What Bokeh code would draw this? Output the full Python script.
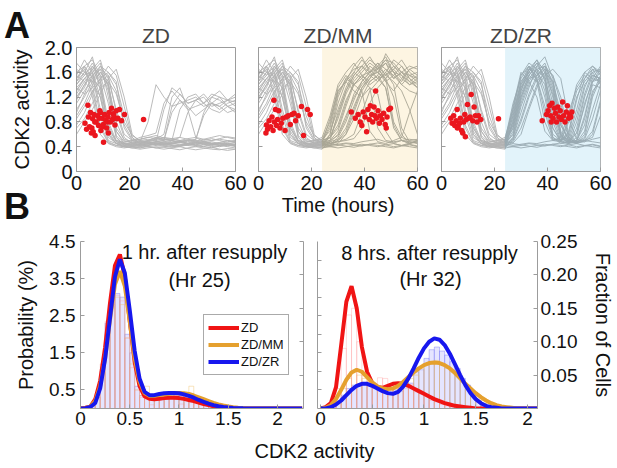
from bokeh.plotting import figure
from bokeh.layouts import column, row
from bokeh.models import (Range1d, LinearAxis, FixedTicker, Label, BoxAnnotation,
                          Legend, LegendItem, CustomJSTickFormatter)
from bokeh.embed import file_html
from bokeh.resources import INLINE

FONT = "Liberation Sans"
AXC = "#9c9c9c"

# ---------------- Panel A data ----------------
hours = [0, 3, 6, 9, 12, 15, 18, 21, 24, 27, 30, 33, 36, 39, 42, 45, 48, 51, 54, 57, 60]
resupply_hr = 24

zd_traces = [
    [1.45,1.60,1.55,0.90,0.50,0.45,0.42,0.44,0.45,0.48,0.46,0.44,0.47,0.50,0.45,0.43,0.46,0.48,0.45,0.44,0.47],
    [1.30,1.50,1.65,1.40,0.70,0.48,0.45,0.47,0.50,0.52,0.49,0.46,0.44,0.48,0.51,0.49,0.46,0.43,0.45,0.48,0.50],
    [1.20,1.35,1.70,1.55,1.10,0.55,0.42,0.40,0.38,0.42,0.45,0.43,0.40,0.42,0.45,0.47,0.44,0.42,0.40,0.43,0.42],
    [0.90,1.10,1.40,1.60,1.45,0.65,0.48,0.50,0.52,0.55,0.58,0.54,0.52,0.50,0.53,0.55,0.52,0.50,0.53,0.56,0.54],
    [1.60,1.70,1.20,0.60,0.45,0.40,0.38,0.40,0.42,0.45,0.48,0.50,1.05,1.25,1.10,1.15,1.20,1.05,1.10,1.15,1.12],
    [1.40,1.55,1.75,1.50,0.80,0.50,0.47,0.50,0.55,0.58,0.62,1.10,1.30,1.15,1.00,1.05,1.10,1.20,1.15,1.05,1.10],
    [1.10,1.30,1.50,1.65,1.30,0.70,0.52,0.48,0.46,0.50,0.55,0.52,0.50,1.00,1.20,1.25,1.10,1.00,0.95,1.05,1.00],
    [0.75,0.95,1.25,1.50,1.60,1.40,0.90,0.55,0.45,0.42,0.44,0.46,0.45,0.48,0.50,0.52,0.90,1.10,1.05,0.95,1.00],
    [1.50,1.65,1.40,0.75,0.48,0.42,0.40,0.38,0.36,0.38,0.40,0.39,0.37,0.35,0.38,0.40,0.38,0.36,0.35,0.37,0.36],
    [1.25,1.45,1.60,1.75,1.20,0.58,0.45,0.42,0.44,0.47,0.45,0.43,0.46,0.48,0.50,0.47,0.45,0.44,0.46,0.45,0.43],
    [0.85,1.05,1.30,1.45,1.55,1.30,0.75,0.52,0.48,0.46,0.48,0.50,0.53,0.55,0.52,0.50,0.48,0.50,0.52,0.50,0.48],
    [1.55,1.80,1.60,1.00,0.55,0.46,0.44,0.46,0.48,0.80,1.40,1.20,1.05,1.10,1.15,1.20,1.10,1.25,1.20,1.15,1.25],
    [1.35,1.50,1.45,1.60,1.40,0.65,0.45,0.40,0.38,0.40,0.42,0.45,0.43,0.41,0.44,0.46,0.43,0.40,0.42,0.44,0.41],
    [1.00,1.20,1.45,1.70,1.50,1.00,0.60,0.50,0.52,0.55,0.53,0.50,0.95,1.15,1.05,0.90,1.00,1.10,1.20,1.05,0.95],
    [1.40,1.60,1.85,1.30,0.60,0.45,0.40,0.38,0.40,0.43,0.45,0.48,0.46,0.44,0.42,0.45,0.48,0.46,0.44,0.42,0.45],
    [0.70,0.85,1.10,1.35,1.45,1.25,0.80,0.58,0.50,0.48,0.50,0.52,0.50,0.48,0.46,0.49,0.52,0.55,0.58,0.55,0.52],
    [1.65,1.55,1.70,1.45,0.70,0.50,0.46,0.44,0.42,0.45,0.48,1.00,1.35,1.25,1.10,1.15,1.05,1.10,1.00,1.10,1.15],
    [1.20,1.40,1.55,1.65,1.55,0.95,0.55,0.45,0.42,0.40,0.38,0.40,0.42,0.44,0.42,0.40,0.43,0.45,0.42,0.40,0.38],
    [1.30,1.50,1.60,1.20,0.60,0.45,0.42,0.45,0.48,0.50,0.52,0.60,1.20,1.35,1.00,0.55,0.48,0.45,0.47,0.50,0.48],
    [1.75,1.60,1.45,1.20,0.65,0.45,0.40,0.42,0.44,0.46,0.44,0.42,0.45,0.47,0.44,0.42,0.40,0.43,0.46,0.44,0.42],
    [1.50,1.70,1.80,1.55,1.40,0.80,0.50,0.46,0.44,0.42,0.45,0.48,0.50,0.47,0.45,0.48,0.50,0.53,0.50,0.47,0.50],
    [0.60,0.80,1.00,1.25,1.50,1.65,1.20,0.60,0.48,0.45,0.43,0.46,0.49,0.47,0.45,0.43,0.46,0.44,0.42,0.45,0.47],
    [1.35,1.25,1.55,1.70,1.60,1.45,0.70,0.50,0.46,0.50,0.55,0.52,0.50,0.55,0.95,1.15,1.25,1.10,1.05,1.15,1.20],
    [1.55,1.45,1.30,0.70,0.46,0.42,0.40,0.41,0.43,0.45,0.43,0.41,0.39,0.42,0.44,0.42,0.40,0.38,0.41,0.43,0.40],
    [1.15,1.40,1.65,1.80,1.35,0.55,0.42,0.44,0.47,0.49,0.52,0.55,0.53,0.50,0.48,0.51,0.95,1.20,1.30,1.15,1.05],
    [0.95,1.25,1.35,1.50,1.70,1.55,1.05,0.55,0.44,0.40,0.38,0.36,0.38,0.40,0.37,0.35,0.37,0.39,0.36,0.34,0.36],
    [1.45,1.70,1.50,1.35,0.75,0.48,0.44,0.42,0.40,0.44,0.47,0.45,0.42,0.40,0.43,0.46,0.48,0.45,0.43,0.41,0.44],
]

mm_traces = [
    [1.45,1.60,1.55,0.90,0.50,0.45,0.42,0.44,0.45,0.60,1.20,1.50,1.65,1.70,1.55,1.60,1.75,1.50,1.60,1.55,1.50],
    [1.30,1.50,1.65,1.40,0.70,0.48,0.45,0.47,0.50,0.55,0.70,1.10,1.45,1.60,1.75,1.65,1.50,0.80,0.55,0.50,0.52],
    [1.20,1.35,1.70,1.55,1.10,0.55,0.42,0.40,0.38,0.42,0.50,0.65,1.00,1.35,1.50,1.70,1.85,1.60,1.40,1.55,1.45],
    [0.90,1.10,1.40,1.60,1.45,0.65,0.48,0.50,0.52,0.80,1.35,1.55,1.40,1.50,1.35,0.70,0.50,0.48,0.50,0.52,0.50],
    [1.60,1.70,1.20,0.60,0.45,0.40,0.38,0.40,0.42,0.45,0.48,0.52,0.60,0.95,1.30,1.45,1.60,1.80,1.70,1.55,1.60],
    [1.40,1.55,1.75,1.50,0.80,0.50,0.47,0.50,0.55,0.90,1.40,1.60,1.75,1.55,1.60,1.70,1.45,1.30,1.50,1.65,1.55],
    [1.10,1.30,1.50,1.65,1.30,0.70,0.52,0.48,0.46,0.50,0.58,0.85,1.25,1.45,1.60,1.50,1.35,0.75,0.50,0.45,0.48],
    [0.75,0.95,1.25,1.50,1.60,1.40,0.90,0.55,0.45,0.42,0.44,0.46,0.45,0.48,0.50,0.52,0.48,0.46,0.50,0.48,0.46],
    [1.50,1.65,1.40,0.75,0.48,0.42,0.40,0.38,0.36,0.50,0.95,1.30,1.55,1.70,1.85,1.65,1.75,1.60,1.45,1.65,1.70],
    [1.25,1.45,1.60,1.75,1.20,0.58,0.45,0.42,0.44,0.47,0.60,0.90,1.20,1.40,1.55,1.45,1.60,1.40,0.70,0.48,0.45],
    [0.85,1.05,1.30,1.45,1.55,1.30,0.75,0.52,0.48,0.46,0.48,0.50,0.53,0.70,1.10,1.35,1.50,1.65,1.80,1.60,1.50],
    [1.55,1.80,1.60,1.00,0.55,0.46,0.44,0.46,0.48,0.70,1.25,1.50,1.40,1.30,0.65,0.48,0.45,0.50,0.55,0.95,1.30],
    [1.35,1.50,1.45,1.60,1.40,0.65,0.45,0.40,0.38,0.40,0.42,0.45,0.43,0.41,0.44,0.46,0.43,0.40,0.42,0.44,0.41],
    [1.00,1.20,1.45,1.70,1.50,1.00,0.60,0.50,0.52,0.65,1.00,1.35,1.60,1.80,1.65,1.50,1.55,1.70,1.60,1.45,1.55],
    [1.40,1.60,1.85,1.30,0.60,0.45,0.40,0.38,0.40,0.43,0.55,0.80,1.15,1.45,1.60,1.75,1.55,1.45,1.30,1.00,0.60],
    [0.70,0.85,1.10,1.35,1.45,1.25,0.80,0.58,0.50,0.55,0.75,1.15,1.40,1.55,1.40,1.50,1.65,1.55,1.70,1.50,1.40],
    [1.65,1.55,1.70,1.45,0.70,0.50,0.46,0.44,0.42,0.45,0.50,0.60,0.85,1.20,1.45,1.55,1.90,1.70,1.55,1.40,1.50],
    [1.20,1.40,1.55,1.65,1.55,0.95,0.55,0.45,0.42,0.40,0.38,0.40,0.42,0.44,0.42,0.40,0.43,0.45,0.42,0.40,0.38],
    [1.30,1.50,1.60,1.20,0.60,0.45,0.42,0.45,0.48,0.75,1.30,1.45,1.30,1.20,1.35,1.25,0.65,0.45,0.42,0.46,0.50],
    [1.75,1.60,1.45,1.20,0.65,0.45,0.40,0.42,0.44,0.55,0.85,1.25,1.50,1.65,1.80,1.70,1.55,1.65,1.50,1.40,1.45],
    [1.50,1.70,1.80,1.55,1.40,0.80,0.50,0.46,0.44,0.42,0.45,0.60,0.95,1.30,1.50,1.65,1.80,1.75,1.60,1.50,1.35],
    [0.60,0.80,1.00,1.25,1.50,1.65,1.20,0.60,0.48,0.50,0.65,1.05,1.40,1.55,1.45,1.55,1.35,0.70,0.50,0.46,0.48],
    [1.35,1.25,1.55,1.70,1.60,1.45,0.70,0.50,0.46,0.55,0.90,1.30,1.55,1.70,1.60,1.75,1.65,1.50,1.60,1.70,1.65],
    [1.55,1.45,1.30,0.70,0.46,0.42,0.40,0.41,0.43,0.45,0.43,0.41,0.39,0.42,0.44,0.42,0.40,0.38,0.41,0.43,0.40],
    [1.15,1.40,1.65,1.80,1.35,0.55,0.42,0.44,0.47,0.85,1.30,1.45,1.60,1.50,1.70,1.60,1.45,1.55,1.40,1.30,1.25],
    [0.95,1.25,1.35,1.50,1.70,1.55,1.05,0.55,0.44,0.48,0.52,0.70,1.05,1.35,1.55,1.60,1.50,1.20,0.60,0.45,0.50],
    [1.45,1.70,1.50,1.35,0.75,0.48,0.44,0.42,0.40,0.60,1.10,1.45,1.70,1.85,1.60,1.65,1.80,1.60,1.55,1.45,1.35],
]

zr_traces = [
    [1.45,1.60,1.55,0.90,0.50,0.45,0.42,0.44,0.45,0.90,1.45,1.65,1.60,1.20,0.55,0.45,0.50,0.90,1.40,1.55,1.50],
    [1.30,1.50,1.65,1.40,0.70,0.48,0.45,0.47,0.50,0.70,1.25,1.55,1.70,1.55,0.90,0.50,0.45,0.55,1.10,1.45,1.60],
    [1.20,1.35,1.70,1.55,1.10,0.55,0.42,0.40,0.38,0.55,1.05,1.40,1.60,1.75,1.40,0.65,0.48,0.45,0.60,1.20,1.50],
    [0.90,1.10,1.40,1.60,1.45,0.65,0.48,0.50,0.52,1.10,1.50,1.70,1.45,0.80,0.50,0.55,0.95,1.35,1.55,1.45,1.50],
    [1.60,1.70,1.20,0.60,0.45,0.40,0.38,0.40,0.42,0.50,0.80,1.20,1.50,1.65,1.55,1.20,0.60,0.48,0.52,0.85,1.30],
    [1.40,1.55,1.75,1.50,0.80,0.50,0.47,0.50,0.55,1.00,1.55,1.75,1.65,1.30,0.60,0.50,0.60,1.15,1.60,1.70,1.55],
    [1.10,1.30,1.50,1.65,1.30,0.70,0.52,0.48,0.46,0.60,1.10,1.45,1.65,1.50,1.00,0.55,0.47,0.50,0.75,1.30,1.45],
    [0.75,0.95,1.25,1.50,1.60,1.40,0.90,0.55,0.45,0.42,0.44,0.46,0.45,0.48,0.50,0.52,0.48,0.46,0.50,0.48,0.46],
    [1.50,1.65,1.40,0.75,0.48,0.42,0.40,0.38,0.36,0.85,1.40,1.60,1.80,1.45,0.70,0.48,0.45,0.70,1.25,1.60,1.65],
    [1.25,1.45,1.60,1.75,1.20,0.58,0.45,0.42,0.44,0.65,1.20,1.50,1.55,1.70,1.35,0.75,0.52,0.48,0.50,0.55,0.90],
    [0.85,1.05,1.30,1.45,1.55,1.30,0.75,0.52,0.48,0.46,0.60,1.00,1.35,1.55,1.65,1.50,0.85,0.52,0.48,0.60,1.10],
    [1.55,1.80,1.60,1.00,0.55,0.46,0.44,0.46,0.48,1.05,1.60,1.45,1.20,0.65,0.50,0.48,0.80,1.30,1.50,1.65,1.45],
    [1.35,1.50,1.45,1.60,1.40,0.65,0.45,0.40,0.38,0.40,0.42,0.45,0.43,0.41,0.44,0.46,0.43,0.40,0.42,0.44,0.41],
    [1.00,1.20,1.45,1.70,1.50,1.00,0.60,0.50,0.52,0.75,1.30,1.65,1.80,1.60,1.10,0.58,0.50,0.62,1.05,1.50,1.70],
    [1.40,1.60,1.85,1.30,0.60,0.45,0.40,0.38,0.40,0.48,0.70,1.05,1.40,1.60,1.45,0.95,0.55,0.45,0.50,0.65,1.15],
    [0.70,0.85,1.10,1.35,1.45,1.25,0.80,0.58,0.50,0.95,1.45,1.60,1.50,1.05,0.55,0.48,0.65,1.20,1.45,1.60,1.40],
    [1.65,1.55,1.70,1.45,0.70,0.50,0.46,0.44,0.42,0.55,0.95,1.35,1.70,1.85,1.50,0.80,0.50,0.46,0.48,0.52,0.55],
    [1.20,1.40,1.55,1.65,1.55,0.95,0.55,0.45,0.42,0.40,0.38,0.40,0.42,0.44,0.42,0.40,0.43,0.45,0.42,0.40,0.38],
    [1.30,1.50,1.60,1.20,0.60,0.45,0.42,0.45,0.48,0.80,1.35,1.55,1.45,1.60,1.25,0.60,0.45,0.48,0.85,1.40,1.35],
    [1.75,1.60,1.45,1.20,0.65,0.45,0.40,0.42,0.44,0.75,1.30,1.60,1.75,1.50,0.80,0.48,0.46,0.80,1.35,1.65,1.60],
    [1.50,1.70,1.80,1.55,1.40,0.80,0.50,0.46,0.44,0.60,1.15,1.50,1.65,1.70,1.45,0.75,0.50,0.47,0.65,1.25,1.55],
    [0.60,0.80,1.00,1.25,1.50,1.65,1.20,0.60,0.48,1.00,1.55,1.70,1.50,0.95,0.52,0.50,0.85,1.40,1.60,1.50,1.45],
    [1.35,1.25,1.55,1.70,1.60,1.45,0.70,0.50,0.46,0.70,1.20,1.55,1.75,1.65,1.30,0.62,0.48,0.50,0.90,1.45,1.65],
    [1.55,1.45,1.30,0.70,0.46,0.42,0.40,0.41,0.43,0.45,0.43,0.41,0.39,0.42,0.44,0.42,0.40,0.38,0.41,0.43,0.40],
    [1.15,1.40,1.65,1.80,1.35,0.55,0.42,0.44,0.47,0.90,1.40,1.70,1.60,1.40,0.70,0.50,0.55,1.00,1.50,1.70,1.60],
    [0.95,1.25,1.35,1.50,1.70,1.55,1.05,0.55,0.44,0.52,0.85,1.25,1.55,1.70,1.55,1.10,0.55,0.47,0.55,1.00,1.40],
    [1.45,1.70,1.50,1.35,0.75,0.48,0.44,0.42,0.40,0.80,1.35,1.65,1.55,1.65,1.20,0.58,0.46,0.62,1.20,1.55,1.50],
]

zd_dots = [(3.2,0.78),(3.8,0.68),(4.3,1.07),(4.5,0.88),(4.9,0.72),(5.3,0.95),(5.6,0.62),(5.8,0.70),
           (6.1,0.85),(6.6,0.92),(6.9,0.80),(7.0,0.58),(7.4,0.80),(7.9,0.90),(8.3,0.74),(8.6,0.86),
           (8.8,0.98),(9.2,0.66),(9.7,0.86),(9.9,0.72),(10.1,0.76),(10.2,0.47),(10.6,0.92),(11.0,0.83),
           (11.4,0.70),(11.7,0.80),(11.9,0.88),(12.3,0.95),(12.8,0.80),(13.2,1.02),(13.6,0.84),(13.9,0.93),
           (14.1,0.90),(14.5,0.75),(15.0,0.98),(15.3,0.85),(15.6,0.86),(16.2,1.00),(17.0,0.82),(18.1,0.92),
           (25.3,0.84),(6.3,0.64),(12.0,0.62),(9.0,0.95)]
mm_dots = [(2.8,0.62),(3.0,0.75),(3.4,0.68),(4.0,0.82),(4.6,0.72),(5.1,0.88),(5.5,0.66),(6.0,0.80),
           (6.4,1.00),(6.8,0.74),(7.2,0.84),(7.6,0.98),(8.1,0.70),(8.6,0.78),(9.2,0.86),(10.0,0.66),
           (10.5,0.88),(11.2,0.90),(12.0,0.76),(12.6,0.92),(13.4,0.94),(14.0,0.82),(15.0,0.90),(16.2,1.05),
           (17.0,0.58),(18.5,1.00),(19.5,0.92),(5.8,1.15),
           (35.0,0.96),(36.5,0.86),(37.6,0.92),(38.4,0.80),(39.0,0.74),(39.5,0.96),(40.2,0.88),(40.8,0.64),
           (41.3,1.00),(41.8,0.84),(42.2,1.06),(42.7,0.92),(43.1,0.80),(43.6,1.04),(44.0,0.90),(44.5,0.86),
           (45.1,0.98),(45.6,0.78),(46.0,0.90),(46.6,0.84),(47.2,0.94),(47.8,0.76),(48.5,0.88),(49.2,1.00),
           (49.8,1.02),(44.2,1.30),(48.2,0.70)]
zr_dots = [(3.5,0.86),(4.0,0.78),(4.6,0.90),(5.0,0.74),(5.5,0.82),(5.9,1.00),(6.3,0.72),(6.8,0.78),
           (7.1,0.86),(7.6,0.66),(8.0,0.62),(8.4,0.80),(8.8,0.92),(9.3,0.84),(9.8,1.08),(10.3,0.86),
           (10.8,0.88),(11.2,1.24),(11.8,0.82),(12.3,1.04),(12.8,0.90),(13.4,0.80),(14.0,0.90),(14.8,0.84),
           (21.5,0.85),(6.0,0.70),(9.0,0.56),
           (38.0,0.82),(39.6,0.92),(40.2,0.98),(40.8,1.06),(41.2,0.90),(41.7,1.10),(42.1,0.86),(42.6,1.02),
           (43.0,0.94),(43.4,0.80),(43.9,1.04),(44.3,0.88),(44.8,0.98),(45.2,0.84),(45.7,1.12),(46.1,0.90),
           (46.6,0.80),(47.1,0.96),(47.5,1.06),(48.0,0.86),(48.4,0.92),(48.8,0.88),(49.2,0.96),(41.4,0.80)]

a_titles = ["ZD", "ZD/MM", "ZD/ZR"]
a_xticks = [0, 20, 40, 60]
a_yticks = [0, 0.4, 0.8, 1.2, 1.6, 2.0]

# ---------------- Panel B data ----------------
b_xticks = [0, 0.5, 1, 1.5, 2]
b1_yticks = [0.5, 1.5, 2.5, 3.5, 4.5]
b2_frac_ticks = [0.05, 0.10, 0.15, 0.20, 0.25]
b2_prob_ticks = [0.5, 1.0, 1.5, 2.0, 2.5, 3.0, 3.5, 4.0]
bin_w = 0.05

b1_x = [0.00,0.05,0.10,0.15,0.20,0.25,0.30,0.35,0.40,0.45,0.50,0.55,0.60,0.65,0.70,0.75,
        0.80,0.85,0.90,0.95,1.00,1.05,1.10,1.15,1.20,1.25,1.30,1.35,1.40,1.45,1.50,1.55,
        1.60,1.65,1.70,1.75,1.80,1.85,1.90,1.95,2.00,2.05,2.10,2.15,2.20,2.25]
b1_zd = [0.0,0.02,0.05,0.25,0.75,1.65,2.85,3.85,4.15,3.55,2.35,1.25,0.60,0.33,0.26,0.25,
         0.26,0.28,0.29,0.29,0.28,0.26,0.23,0.20,0.16,0.12,0.09,0.06,0.04,0.025,0.015,0.008,
         0.004,0,0,0,0,0,0,0,0,0,0,0,0,0]
b1_mm = [0.0,0.01,0.05,0.20,0.60,1.35,2.40,3.35,3.70,3.30,2.35,1.35,0.72,0.42,0.34,0.34,
         0.36,0.38,0.40,0.42,0.42,0.41,0.39,0.35,0.30,0.25,0.20,0.15,0.11,0.08,0.055,0.035,
         0.02,0.012,0.006,0.003,0,0,0,0,0,0,0,0,0,0]
b1_zr = [0.0,0.01,0.04,0.15,0.55,1.35,2.45,3.55,4.02,3.65,2.65,1.55,0.80,0.45,0.36,0.36,
         0.39,0.41,0.42,0.42,0.41,0.38,0.34,0.29,0.23,0.18,0.13,0.09,0.06,0.04,0.025,0.015,
         0.008,0.004,0.002,0,0,0,0,0,0,0,0,0,0,0]

b1_bins = [0.10,0.15,0.20,0.25,0.30,0.35,0.40,0.45,0.50,0.55,0.60,0.65,0.70,0.75,0.80,
           0.85,0.90,0.95,1.00,1.05,1.10,1.15,1.20,1.25,1.30,1.35,1.40,1.45,1.50,1.55]
b1_zr_hist = [0.05,0.30,1.00,2.30,3.00,3.10,3.00,2.00,1.50,0.60,0.35,0.30,0.30,0.30,0.35,
              0.35,0.35,0.40,0.35,0.40,0.35,0.30,0.25,0.20,0.15,0.10,0.08,0.05,0.03,0.02]
b1_zd_hist = [0.10,0.40,1.20,2.35,3.10,3.05,2.90,1.90,1.10,0.50,0.30,0.25,0.10,0.25,0.30,
              0.25,0.30,0.35,0.12,0.30,0.20,0.15,0.15,0.10,0.05,0.05,0.02,0.0,0.0,0.0]
b1_mm_hist = [0.08,0.30,1.00,2.00,2.80,3.00,2.80,1.90,1.20,0.50,0.35,0.60,0.30,0.30,0.35,
              0.30,0.40,0.35,0.40,0.35,0.60,0.30,0.25,0.20,0.15,0.10,0.08,0.05,0.04,0.02]

b2_x = [0.00,0.05,0.10,0.15,0.20,0.25,0.30,0.35,0.40,0.45,0.50,0.55,0.60,0.65,0.70,0.75,
        0.80,0.85,0.90,0.95,1.00,1.05,1.10,1.15,1.20,1.25,1.30,1.35,1.40,1.45,1.50,1.55,
        1.60,1.65,1.70,1.75,1.80,1.85,1.90,1.95,2.00,2.05,2.10]
b2_zd = [0.0,0.002,0.008,0.032,0.095,0.160,0.183,0.150,0.092,0.055,0.038,0.032,0.031,0.034,0.037,0.038,
         0.037,0.034,0.030,0.026,0.022,0.018,0.014,0.011,0.008,0.006,0.004,0.003,0.002,0.001,0,0,
         0,0,0,0,0,0,0,0,0,0,0]
b2_mm = [0.0,0.001,0.005,0.014,0.028,0.043,0.054,0.058,0.055,0.047,0.039,0.033,0.030,0.029,0.030,0.034,
         0.040,0.047,0.054,0.060,0.065,0.068,0.069,0.068,0.065,0.060,0.053,0.045,0.037,0.030,0.023,0.017,
         0.012,0.008,0.005,0.003,0.002,0.001,0,0,0,0,0]
b2_zr = [0.0,0.0,0.002,0.006,0.012,0.020,0.028,0.034,0.037,0.037,0.034,0.030,0.026,0.023,0.022,0.025,
         0.033,0.045,0.060,0.076,0.090,0.100,0.105,0.103,0.095,0.082,0.066,0.050,0.035,0.023,0.014,0.008,
         0.004,0.002,0.001,0,0,0,0,0,0,0,0]

b2_bins = [0.10,0.15,0.20,0.25,0.30,0.35,0.40,0.45,0.50,0.55,0.60,0.65,0.70,0.75,0.80,0.85,
           0.90,0.95,1.00,1.05,1.10,1.15,1.20,1.25,1.30,1.35,1.40,1.45,1.50,1.55,1.60,1.65]
b2_zr_hist = [0.005,0.010,0.020,0.030,0.035,0.034,0.036,0.035,0.030,0.033,0.026,0.024,0.028,0.026,0.040,0.038,
              0.055,0.058,0.075,0.088,0.092,0.086,0.080,0.070,0.060,0.045,0.035,0.018,0.010,0.004,0.002,0.0]
b2_zd_hist = [0.005,0.030,0.090,0.140,0.150,0.100,0.050,0.040,0.036,0.046,0.045,0.030,0.032,0.035,0.030,0.036,
              0.025,0.022,0.018,0.012,0.010,0.006,0.004,0.002,0.0,0.0,0.0,0.0,0.0,0.0,0.0,0.0]
b2_mm_hist = [0.004,0.010,0.030,0.045,0.055,0.050,0.045,0.040,0.035,0.030,0.028,0.030,0.030,0.035,0.040,0.045,
              0.050,0.060,0.065,0.070,0.072,0.066,0.060,0.055,0.050,0.040,0.032,0.025,0.020,0.012,0.008,0.005]

series_names = ["ZD", "ZD/MM", "ZD/ZR"]
series_colors = ["#f01414", "#e5a02e", "#1717ee"]


# ---------------- helpers ----------------
def make_fig(width, height, lb, rb, tb, bb, xr, yr, y_loc="left"):
    p = figure(width=width, height=height, x_range=xr, y_range=yr, toolbar_location=None,
               output_backend="svg", y_axis_location=y_loc,
               min_border_left=lb, min_border_right=rb, min_border_top=tb, min_border_bottom=bb)
    p.xgrid.visible = False
    p.ygrid.visible = False
    p.outline_line_color = None
    p.background_fill_color = "white"
    p.border_fill_color = "white"
    return p


def style_axis(ax, ticks, code, size, standoff=4):
    ax.ticker = FixedTicker(ticks=ticks)
    if code is not None:
        ax.formatter = CustomJSTickFormatter(code=code)
    ax.axis_line_color = AXC
    ax.major_tick_line_color = AXC
    ax.major_tick_in = 4
    ax.major_tick_out = 0
    ax.minor_tick_line_color = None
    ax.major_label_text_font = FONT
    ax.major_label_text_font_size = size
    ax.major_label_text_color = "#111111"
    ax.major_label_standoff = standoff
    ax.axis_label_text_font = FONT
    ax.axis_label_text_font_style = "normal"
    ax.axis_label_text_color = "#111111"


def txt(text, x, y, size, align="left", baseline="alphabetic", bold=False, angle=0.0):
    return Label(x=x, y=y, x_units="screen", y_units="screen", text=text, angle=angle,
                 text_font=FONT, text_font_size=size, text_color="#111111",
                 text_font_style="bold" if bold else "normal",
                 text_align=align, text_baseline=baseline, level="overlay")


def add_hists(p, bins, zr_h, mm_h, zd_h):
    rights = [b + bin_w for b in bins]
    p.quad(left=bins, right=rights, bottom=0, top=zr_h,
           fill_color="#cfd0ff", fill_alpha=0.55, line_color="#6f6ff5", line_alpha=0.5, line_width=0.8)
    p.quad(left=bins, right=rights, bottom=0, top=mm_h,
           fill_color=None, line_color="#efc26a", line_alpha=0.55, line_width=0.8)
    p.quad(left=bins, right=rights, bottom=0, top=zd_h,
           fill_color=None, line_color="#ff9090", line_alpha=0.4, line_width=0.8)


HIDE = "return '';"
A_FMT = "return tick == 0 ? '0' : tick.toFixed(1);"
B_FMT = "return (Math.round(tick * 10) / 10).toString();"

ROW_A_H = 229
A_TOP, A_BOT = 47, 57
ROW_B_H = 209
B_TOP, B_BOT = 12, 30
ROW_C_H = 30
SIDE_W = 33

# ---------------- Row A ----------------
# side strip: panel letters and shared y label (frame aligned with A panels)
side = figure(width=SIDE_W, height=ROW_A_H, x_range=Range1d(0, SIDE_W), y_range=Range1d(0, 1),
              toolbar_location=None, output_backend="svg", y_axis_type=None,
              min_border_left=0, min_border_right=0, min_border_top=A_TOP, min_border_bottom=A_BOT)
side.xgrid.visible = False
side.ygrid.visible = False
side.outline_line_color = None
side.title.text = "A"
side.title.align = "center"
side.title.text_font = FONT
side.title.text_font_size = "36px"
side.title.text_font_style = "bold"
side.title.text_color = "#111111"
side.title.standoff = 3
sx = side.xaxis[0]
sx.ticker = FixedTicker(ticks=[])
sx.axis_line_color = None
sx.major_tick_line_color = None
sx.major_tick_out = 0
sx.major_tick_in = 0
sx.major_label_standoff = 0
sx.axis_label = "B"
sx.axis_label_text_font = FONT
sx.axis_label_text_font_size = "36px"
sx.axis_label_text_font_style = "bold"
sx.axis_label_text_color = "#111111"
sx.axis_label_standoff = 14
side.add_layout(txt("CDK2 activity", 21, 62, "20px", align="center",
                    baseline="middle", angle=1.5708))

a_traces = [zd_traces, mm_traces, zr_traces]
a_dots = [zd_dots, mm_dots, zr_dots]
a_shade = [None, "#fdf5e2", "#e2f3fa"]
a_post_col = ["#b3b3b3", "#a9a695", "#9aaab2"]
a_geom = [(214, 43, 12), (182, 11, 12), (188, 12, 17)]
k = hours.index(resupply_hr)

a_figs = []
for i in range(3):
    w, lb, rb = a_geom[i]
    p = make_fig(w, ROW_A_H, lb, rb, A_TOP, A_BOT, Range1d(0, 60), Range1d(0, 2.0))
    p.outline_line_color = AXC
    p.title.text = a_titles[i]
    p.title.align = "center"
    p.title.text_font = FONT
    p.title.text_font_size = "21px"
    p.title.text_font_style = "normal"
    p.title.standoff = 1
    if a_shade[i]:
        p.add_layout(BoxAnnotation(left=resupply_hr, fill_color=a_shade[i], fill_alpha=1.0,
                                   line_color=None, level="underlay"))
    tr = a_traces[i]
    p.multi_line(xs=[hours[:k + 1] for t in tr], ys=[t[:k + 1] for t in tr],
                 line_color="#b3b3b3", line_width=0.9)
    p.multi_line(xs=[hours[k:len(t)] for t in tr], ys=[t[k:len(hours)] for t in tr],
                 line_color=a_post_col[i], line_width=0.9)
    p.scatter(x=[d[0] for d in a_dots[i]], y=[d[1] for d in a_dots[i]], size=5.5,
              fill_color="#ea161e", line_color=None)
    style_axis(p.xaxis[0], a_xticks, None, "20px", 4)
    style_axis(p.yaxis[0], a_yticks, A_FMT if i == 0 else HIDE, "20px", 4)
    if i == 1:
        p.xaxis[0].axis_label = "Time (hours)"
        p.xaxis[0].axis_label_text_font_size = "20px"
        p.xaxis[0].axis_label_standoff = 1
    a_figs.append(p)

# ---------------- Row B ----------------
# B1
b1 = make_fig(310, ROW_B_H, 80, 7, B_TOP, B_BOT, Range1d(0, 2.264), Range1d(0, 4.5))
add_hists(b1, b1_bins, b1_zr_hist, b1_mm_hist, b1_zd_hist)
r_zd = b1.line(b1_x, b1_zd, line_color=series_colors[0], line_width=4)
r_mm = b1.line(b1_x, b1_mm, line_color=series_colors[1], line_width=4)
r_zr = b1.line(b1_x, b1_zr, line_color=series_colors[2], line_width=4)
style_axis(b1.xaxis[0], b_xticks, B_FMT, "19px", 3)
style_axis(b1.yaxis[0], b1_yticks, None, "19px", 5)
b1.yaxis[0].axis_label = "Probability (%)"
b1.yaxis[0].axis_label_text_font_size = "20px"
b1.yaxis[0].axis_label_standoff = 9
b1.extra_y_ranges = {"frac": Range1d(0, 0.25)}
b1_right = LinearAxis(y_range_name="frac")
style_axis(b1_right, b2_frac_ticks, HIDE, "1px", 0)
b1.add_layout(b1_right, "right")
leg = Legend(items=[LegendItem(label=series_names[0], renderers=[r_zd]),
                    LegendItem(label=series_names[1], renderers=[r_mm]),
                    LegendItem(label=series_names[2], renderers=[r_zr])],
             location=(123, 33))
leg.label_text_font = FONT
leg.label_text_font_size = "13px"
leg.label_text_color = "#111111"
leg.glyph_width = 31
leg.glyph_height = 17
leg.label_height = 17
leg.label_standoff = 2
leg.spacing = 0
leg.padding = 4
leg.margin = 0
leg.border_line_color = "#555555"
leg.border_line_width = 1
leg.background_fill_alpha = 1.0
b1.add_layout(leg)
b1.add_layout(txt("1 hr. after resupply", 124, 157, "20px", align="center"))
b1.add_layout(txt("(Hr 25)", 119, 129, "20px", align="center"))

# B2
b2 = make_fig(307, ROW_B_H, 7, 80, B_TOP, B_BOT, Range1d(-0.029, 2.097), Range1d(0, 0.25), y_loc="right")
add_hists(b2, b2_bins, b2_zr_hist, b2_mm_hist, b2_zd_hist)
b2.line(b2_x, b2_zd, line_color=series_colors[0], line_width=4)
b2.line(b2_x, b2_mm, line_color=series_colors[1], line_width=4)
b2.line(b2_x, b2_zr, line_color=series_colors[2], line_width=4)
style_axis(b2.xaxis[0], b_xticks, B_FMT, "19px", 3)
style_axis(b2.yaxis[0], b2_frac_ticks, "return tick.toFixed(2);", "19px", 3)
b2.yaxis[0].axis_label = "Fraction of Cells"
b2.yaxis[0].axis_label_text_font_size = "20px"
b2.yaxis[0].axis_label_standoff = 12
b2.extra_y_ranges = {"prob": Range1d(0, 4.5)}
b2_left = LinearAxis(y_range_name="prob")
style_axis(b2_left, b2_prob_ticks, HIDE, "1px", 0)
b2.add_layout(b2_left, "left")
b2.add_layout(txt("8 hrs. after resupply", 112, 156, "20px", align="center"))
b2.add_layout(txt("(Hr 32)", 113, 130, "20px", align="center"))

# ---------------- Row C: shared x label ----------------
c = figure(width=617, height=ROW_C_H, x_range=Range1d(0, 617), y_range=Range1d(0, ROW_C_H),
           toolbar_location=None, output_backend="svg", x_axis_type=None, y_axis_type=None,
           min_border=0)
c.xgrid.visible = False
c.ygrid.visible = False
c.outline_line_color = None
c.add_layout(txt("CDK2 activity", 314, ROW_C_H - 12, "20px", align="center", baseline="middle"))

layout = column(row(side, *a_figs, spacing=0), row(b1, b2, spacing=0), c, spacing=0)
open("out.html", "w").write(file_html(layout, INLINE))
